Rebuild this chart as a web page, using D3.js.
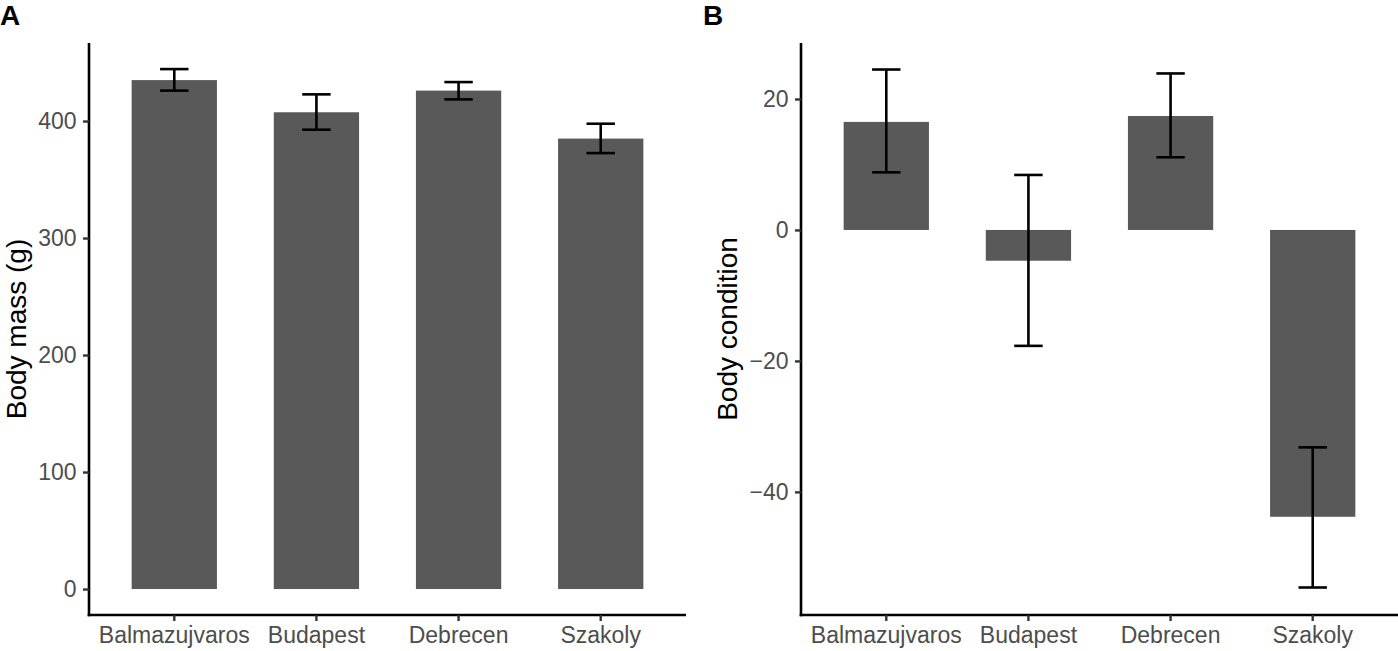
<!DOCTYPE html>
<html>
<head>
<meta charset="utf-8">
<script src="https://cdn.jsdelivr.net/npm/d3@7"></script>
<style>
    body { margin: 0; background: #fff; }
    text { font-family: "Liberation Sans", Arial, sans-serif; }
</style>
</head>
<body>
<svg id="chart" width="1398" height="651"></svg>
<script>
// Sites (same on both panels)
const sites = ['Balmazujvaros', 'Budapest', 'Debrecen', 'Szakoly'];

// Panel A: body mass (g), mean with error bar ends
const massMean = [435, 407.5, 426, 385];
const massLow = [426, 392.6, 418.5, 372.6];
const massHigh = [444.4, 422.8, 433.3, 397.7];
const massTicks = [0, 100, 200, 300, 400];

// Panel B: body condition, mean with error bar ends
const condMean = [16.5, -4.7, 17.4, -43.8];
const condLow = [8.8, -17.7, 11.1, -54.6];
const condHigh = [24.5, 8.4, 23.9, -33.2];
const condTicks = [-40, -20, 0, 20];

const svg = d3.select('#chart');
const barColor = '#595959';
const tickColor = '#4d4d4d';

function drawPanel(opts) {
    const g = svg.append('g');

    // band scale with ggplot-like expansion (0.6 step each side, bar = 0.6 step)
    const x = d3.scaleBand()
        .domain(sites)
        .range([opts.left, opts.right])
        .paddingInner(0.4)
        .paddingOuter(0.3);

    const y = d3.scaleLinear()
        .domain(opts.yDomain)
        .range([615, 43]);

    const rows = sites.map((s, i) => ({
        site: s, mean: opts.mean[i], lo: opts.low[i], hi: opts.high[i]
    }));

    // bars
    g.selectAll('rect.bar')
        .data(rows)
        .enter()
        .append('rect')
        .attr('class', 'bar')
        .attr('x', d => x(d.site))
        .attr('width', x.bandwidth())
        .attr('y', d => y(Math.max(0, d.mean)))
        .attr('height', d => Math.abs(y(d.mean) - y(0)))
        .attr('fill', barColor);

    // error bars
    const capHalf = x.step() * 0.1;
    const cx = d => x(d.site) + x.bandwidth() / 2;
    const err = g.selectAll('g.err')
        .data(rows)
        .enter()
        .append('g')
        .attr('class', 'err')
        .attr('stroke', '#000')
        .attr('stroke-width', 2.6);

    err.append('line')
        .attr('x1', cx)
        .attr('x2', cx)
        .attr('y1', d => y(d.lo))
        .attr('y2', d => y(d.hi));
    err.append('line')
        .attr('x1', d => cx(d) - capHalf)
        .attr('x2', d => cx(d) + capHalf)
        .attr('y1', d => y(d.hi))
        .attr('y2', d => y(d.hi));
    err.append('line')
        .attr('x1', d => cx(d) - capHalf)
        .attr('x2', d => cx(d) + capHalf)
        .attr('y1', d => y(d.lo))
        .attr('y2', d => y(d.lo));

    // axes
    const yAxis = g.append('g')
        .attr('transform', `translate(${opts.left},0)`)
        .call(d3.axisLeft(y).tickValues(opts.ticks).tickSize(6).tickPadding(6.5).tickSizeOuter(0));
    const xAxis = g.append('g')
        .attr('transform', 'translate(0,615)')
        .call(d3.axisBottom(x).tickSize(6).tickPadding(6).tickSizeOuter(0));

    [yAxis, xAxis].forEach(a => {
        a.select('.domain').attr('stroke', '#000').attr('stroke-width', 2.6);
        a.selectAll('.tick line').attr('stroke', '#333').attr('stroke-width', 2.4);
        a.selectAll('.tick text')
            .attr('fill', tickColor)
            .style('font-size', '23px');
    });
    // make the two axis lines meet at the corner
    yAxis.select('.domain').attr('d', `M0,43V${615 + 1.3}`);
    xAxis.select('.domain').attr('d', `M${opts.left - 1.3},0H${opts.right}`);

    // y axis title
    g.append('text')
        .attr('transform', `translate(${opts.titleX},329) rotate(-90)`)
        .attr('text-anchor', 'middle')
        .style('font-size', '28px')
        .attr('fill', '#000')
        .text(opts.title);

    // panel letter
    g.append('text')
        .attr('x', opts.letterX)
        .attr('y', 25)
        .style('font-size', '28px')
        .style('font-weight', 'bold')
        .text(opts.letter);
}

drawPanel({
    left: 89, right: 686,
    yDomain: [-22.2, 466.7],
    mean: massMean, low: massLow, high: massHigh,
    ticks: massTicks,
    title: 'Body mass (g)', titleX: 26,
    letter: 'A', letterX: 0
});

drawPanel({
    left: 801, right: 1398,
    yDomain: [-58.8, 28.55],
    mean: condMean, low: condLow, high: condHigh,
    ticks: condTicks,
    title: 'Body condition', titleX: 737,
    letter: 'B', letterX: 703
});
</script>
</body>
</html>
